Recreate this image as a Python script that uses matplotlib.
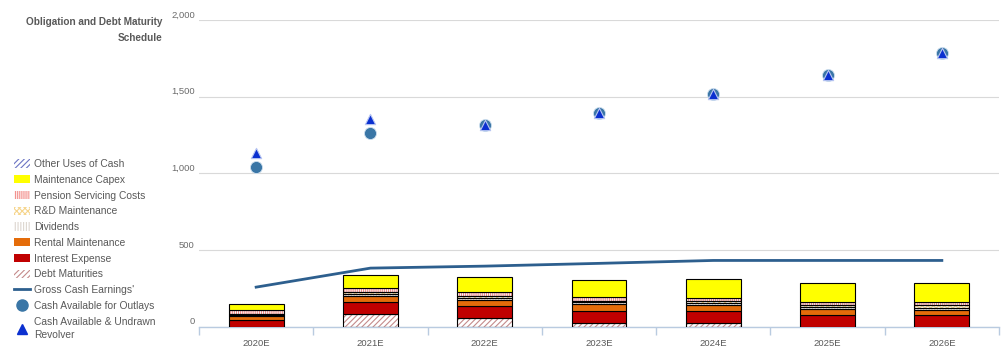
"""Obligation and debt maturity schedule: stacked outlays vs cash available."""
import matplotlib
matplotlib.use('Agg')
import matplotlib.pyplot as plt
from matplotlib.patches import Patch
from matplotlib.lines import Line2D
from matplotlib.transforms import ScaledTranslation
from matplotlib.ticker import FuncFormatter

plt.rcParams['font.family'] = ['Liberation Sans', 'DejaVu Sans']
plt.rcParams['hatch.linewidth'] = 0.8

years = ['2020E', '2021E', '2022E', '2023E', '2024E', '2025E', '2026E']

# stacked outlays, bottom -> top
debt_maturities = [0, 83, 57, 24, 22, 0, 0]
interest_expense = [43, 78, 78, 78, 78, 76, 74]
rental_maintenance = [26, 39, 39, 46, 39, 37, 37]
dividends = [6, 13, 13, 10, 13, 14, 14]
rd_maintenance = [7, 13, 13, 10, 13, 14, 14]
pension_costs = [26, 26, 26, 26, 20, 17, 20]
maintenance_capex = [39, 87, 100, 113, 126, 126, 124]
other_uses = [0, 0, 0, 0, 0, 0, 0]

gross_cash_earnings = [258, 382, 395, 413, 432, 432, 432]
cash_for_outlays = [1041, 1265, 1313, 1393, 1517, 1641, 1784]
cash_and_revolver = [1130, 1352, 1313, 1393, 1517, 1641, 1784]

# (name, values, face, hatch, hatch colour)
stack = [
    ('Debt Maturities', debt_maturities, 'white', '//////', '#c48a8a'),
    ('Interest Expense', interest_expense, '#c00000', None, None),
    ('Rental Maintenance', rental_maintenance, '#e46c0a', None, None),
    ('Dividends', dividends, 'white', '||||||', '#ddd6cf'),
    ('R&D Maintenance', rd_maintenance, 'white', 'xxxxxx', '#f6d58c'),
    ('Pension Servicing Costs', pension_costs, 'white', '||||||||', '#f28a86'),
    ('Maintenance Capex', maintenance_capex, '#ffff00', None, None),
    ('Other Uses of Cash', other_uses, 'white', '//////', '#6b74c4'),
]

fig = plt.figure(figsize=(10.08, 3.61), dpi=100)
ax = fig.add_axes([199 / 1008, 1 - 326.7 / 361, 800 / 1008, 306.7 / 361])

x = list(range(len(years)))
width = 0.48
bottom = [0] * len(years)
for name, vals, face, hatch, hcol in stack:
    for i, v in enumerate(vals):
        if v <= 0:
            continue
        if hatch:
            ax.bar(x[i], v, width, bottom=bottom[i], color='white',
                   edgecolor=hcol, hatch=hatch, linewidth=0, zorder=2)
            ax.bar(x[i], v, width, bottom=bottom[i], facecolor='none',
                   edgecolor='black', linewidth=0.8, zorder=3)
        else:
            ax.bar(x[i], v, width, bottom=bottom[i], color=face,
                   edgecolor='black', linewidth=0.8, zorder=3)
    bottom = [b + v for b, v in zip(bottom, vals)]

ax.plot(x, gross_cash_earnings, color='#2d5f8e', lw=2, zorder=4)
ax.scatter(x, cash_for_outlays, s=75, color='#3a76a6', zorder=5,
           edgecolors='#cfe0ef', linewidths=0.6)
ax.scatter(x, cash_and_revolver, s=55, marker='^', color='#0b30d0', zorder=6,
           edgecolors='#b8c6f2', linewidths=0.8)

ax.set_xlim(-0.5, len(years) - 0.5)
ax.set_ylim(0, 2000)
ax.set_yticks([0, 500, 1000, 1500, 2000])
ax.yaxis.set_major_formatter(FuncFormatter(lambda v, p: f'{int(v):,}'))
ax.grid(axis='y', color='#d9d9d9', lw=0.8, zorder=0)
ax.set_axisbelow(True)
for s in ['left', 'right', 'top']:
    ax.spines[s].set_visible(False)
ax.spines['bottom'].set_color('#b9cbe0')
ax.spines['bottom'].set_linewidth(1.0)

ax.set_xticks([i - 0.5 for i in range(len(years) + 1)])
ax.set_xticklabels([])
ax.tick_params(axis='x', which='major', direction='out', length=6,
               color='#b9cbe0', width=1.0)
ax.set_xticks(x, minor=True)
ax.set_xticklabels(years, minor=True)
ax.tick_params(axis='x', which='minor', length=0, pad=9, labelsize=6.8,
               labelcolor='#595959')
ax.tick_params(axis='y', length=0, pad=3, labelsize=6.8, labelcolor='#6b6b6b')
for lab in ax.get_yticklabels():
    lab.set_transform(lab.get_transform() + ScaledTranslation(0, 6 / 100, fig.dpi_scale_trans))

fig.text(162 / 1008, 1 - 17 / 361, 'Obligation and Debt Maturity\nSchedule',
         ha='right', va='top', fontsize=7.2, fontweight='bold', color='#595959',
         linespacing=1.75, multialignment='right')

handles = []
labels = []
for name, vals, face, hatch, hcol in reversed(stack):
    if hatch:
        handles.append(Patch(facecolor='white', edgecolor=hcol, hatch=hatch, linewidth=0))
    else:
        handles.append(Patch(facecolor=face, edgecolor='none'))
    labels.append(name)
handles.append(Line2D([], [], color='#2d5f8e', lw=2))
labels.append("Gross Cash Earnings'")
handles.append(Line2D([], [], marker='o', ls='none', color='#3a76a6', markersize=8))
labels.append('Cash Available for Outlays')
handles.append(Line2D([], [], marker='^', ls='none', color='#0b30d0', markersize=7))
labels.append('Cash Available & Undrawn\nRevolver')

leg = fig.legend(handles, labels, loc='upper left', bbox_to_anchor=(14 / 1008, 1 - 159 / 361),
                 frameon=False, fontsize=7.4, handlelength=1.55, handleheight=0.85,
                 handletextpad=0.4, labelspacing=0.56, borderaxespad=0, borderpad=0,
                 labelcolor='#595959')
leg.get_texts()[-1].set_linespacing(1.45)

fig.savefig('out.png', dpi=100)
